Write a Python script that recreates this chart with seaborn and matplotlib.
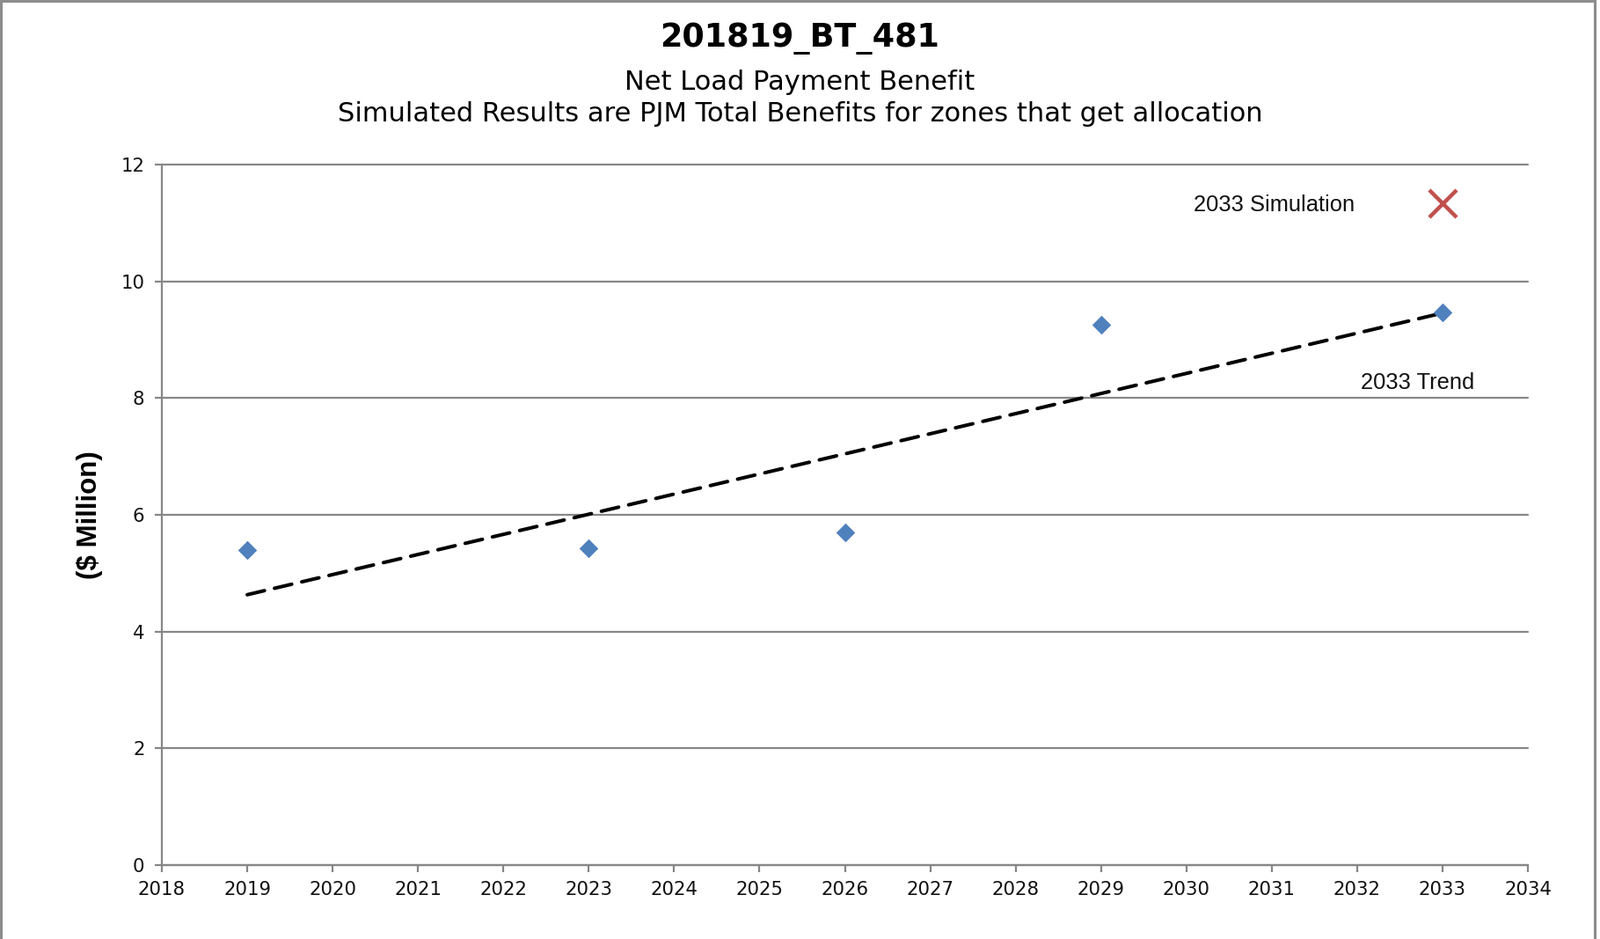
import matplotlib
matplotlib.use("Agg")
import matplotlib.pyplot as plt
import matplotlib.patches as mpatches
import seaborn as sns
import pandas as pd

# ---- data ----
years = [2019, 2023, 2026, 2029, 2033]
benefits = [5.39, 5.42, 5.70, 9.25, 9.46]
sim_year = [2033]
sim_value = [11.33]
x_ticks = list(range(2018, 2035))
y_ticks = [0, 2, 4, 6, 8, 10, 12]

title = "201819_BT_481"
subtitle1 = "Net Load Payment Benefit"
subtitle2 = "Simulated Results are PJM Total Benefits for zones that get allocation"
ylabel = "($ Million)"
sim_label = "2033 Simulation"
trend_label = "2033 Trend"

sns.set_style("white")
plt.rcParams["font.family"] = ["DejaVu Sans"]

df = pd.DataFrame({"year": years, "benefit": benefits})
sim_df = pd.DataFrame({"year": sim_year, "benefit": sim_value})

fig = plt.figure(figsize=(18.19, 10.67), dpi=100)
ax = fig.add_axes([184 / 1819, 1 - 983 / 1067, (1737 - 184) / 1819, (983 - 187) / 1067])

grid_c = "#878787"

# trend line (linear fit)
sns.regplot(data=df, x="year", y="benefit", ax=ax, scatter=False, ci=None,
            line_kws=dict(color="black", lw=2.9, linestyle=(0, (5.0, 2.9)),
                          dash_capstyle="round", zorder=3))
# data points
sns.scatterplot(data=df, x="year", y="benefit", ax=ax, marker="D", s=120,
                color="#4F81BD", edgecolor="#4F81BD", linewidth=0, zorder=4)
# simulation marker
sns.scatterplot(data=sim_df, x="year", y="benefit", ax=ax, marker="x", s=500,
                color="#C0504D", linewidth=3.2, zorder=4)

ax.set_xlim(2018, 2034)
ax.set_ylim(0, 12)
ax.set_xticks(x_ticks)
ax.set_yticks(y_ticks)
ax.set_xticklabels([str(t) for t in x_ticks])
ax.set_yticklabels([str(t) for t in y_ticks])
ax.set_xlabel("")
ax.set_ylabel(ylabel, fontsize=22.5, fontweight="bold", family=["Liberation Sans"], color="black")
ax.yaxis.set_label_coords(-0.043, 0.5)

ax.grid(axis="y", color=grid_c, lw=1.6)
ax.grid(axis="x", visible=False)
for gl in ax.get_ygridlines():
    gl.set_clip_on(False)
ax.set_axisbelow(True)
for s in ["top", "right"]:
    ax.spines[s].set_visible(False)
for s in ["left", "bottom"]:
    ax.spines[s].set_color(grid_c)
    ax.spines[s].set_linewidth(1.6)
ax.tick_params(axis="both", which="major", direction="out", length=6, width=1.6,
               color=grid_c, labelsize=15.3, labelcolor="#111111")
ax.tick_params(axis="y", pad=8)
ax.tick_params(axis="x", pad=7)
ax.tick_params(left=True, bottom=True)

# annotations
ax.text(2030.08, 11.30, sim_label, fontsize=18.4, family=["Liberation Sans"],
        ha="left", va="center", color="#111111")
ax.text(2032.04, 8.26, trend_label, fontsize=18.4, family=["Liberation Sans"],
        ha="left", va="center", color="#111111")

# titles
fig.text(0.5, 1 - 43 / 1067, title, ha="center", va="center", fontsize=26.3,
         fontweight="bold", color="black")
fig.text(0.5, 1 - 94 / 1067, subtitle1, ha="center", va="center", fontsize=22, color="black")
fig.text(0.5, 1 - 130 / 1067, subtitle2, ha="center", va="center", fontsize=22, color="black")

# figure border
fig.patches.append(mpatches.Rectangle((0.0006, -0.01), 0.9962, 1.0094, transform=fig.transFigure,
                                      fill=False, edgecolor="#8c8c8c", lw=2.2))

fig.savefig("out.png", dpi=100, facecolor="white")
